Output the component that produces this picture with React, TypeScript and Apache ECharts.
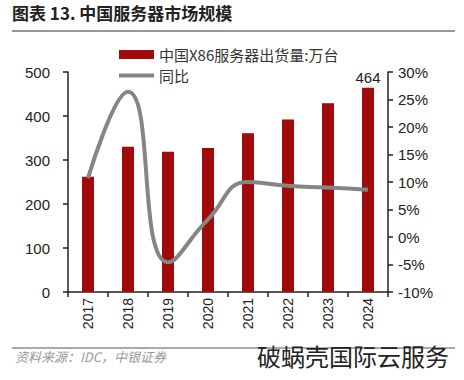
import React, { useEffect, useRef } from "react";
import * as echarts from "echarts";

const years = ["2017", "2018", "2019", "2020", "2021", "2022", "2023", "2024"];
const shipments = [262, 330, 319, 327, 361, 392, 429, 464];
const yoy = [10.7, 26.4, -4.6, 3.2, 10.0, 9.3, 9.0, 8.6];
const leftTicks = { min: 0, max: 500, interval: 100 };
const rightTicks = { min: -10, max: 30, interval: 5 };

const LATIN = "'Liberation Sans', Arial, 'Noto Sans CJK SC', sans-serif";
const CJK = "'Noto Sans CJK SC', 'Liberation Sans', sans-serif";

export default function App() {
  const ref = useRef<HTMLDivElement>(null);
  useEffect(() => {
    if (!ref.current) return;
    const chart = echarts.init(ref.current, null, { renderer: "svg" });
    const axisLine = { show: true, lineStyle: { color: "#222", width: 1.5 } };
    const axisTick = { show: true, length: 5, lineStyle: { color: "#222", width: 1.5 } };
    chart.setOption({
      animation: false,
      backgroundColor: "#fff",
      graphic: [
        {
          type: "text",
          left: 12,
          top: 4,
          style: { text: "图表 13. 中国服务器市场规模", font: `bold 17px ${CJK}`, fill: "#222" },
        },
        {
          type: "line",
          shape: { x1: 12, y1: 31, x2: 455, y2: 31 },
          style: { stroke: "#333", lineWidth: 1 },
        },
        {
          type: "line",
          shape: { x1: 12, y1: 348, x2: 455, y2: 348 },
          style: { stroke: "#555", lineWidth: 1 },
        },
        {
          type: "text",
          left: 15,
          top: 350,
          style: { text: "资料来源：IDC，中银证券", font: `italic 13px ${CJK}`, fill: "#999" },
        },
        {
          type: "text",
          left: 257,
          top: 343,
          style: { text: "破蜗壳国际云服务", font: `24px ${CJK}`, fill: "#222" },
        },
      ],
      legend: {
        orient: "vertical",
        left: 112,
        top: 42,
        itemWidth: 35,
        itemHeight: 9,
        itemGap: 6,
        textStyle: { fontFamily: CJK, fontSize: 15, color: "#333", lineHeight: 15 },
        data: [
          { name: "中国X86服务器出货量:万台", icon: "rect" },
          { name: "同比", itemStyle: { opacity: 0 }, lineStyle: { width: 4, color: "#858585" } },
        ],
      },
      grid: { left: 68, right: 76, top: 72, bottom: 88 },
      xAxis: {
        type: "category",
        data: years,
        boundaryGap: true,
        axisLine,
        axisTick: { ...axisTick, alignWithLabel: false },
        axisLabel: { rotate: 90, fontFamily: LATIN, fontSize: 14, color: "#222", margin: 6 },
      },
      yAxis: [
        {
          type: "value",
          ...leftTicks,
          position: "left",
          axisLine,
          axisTick,
          splitLine: { show: false },
          axisLabel: { fontFamily: LATIN, fontSize: 15, color: "#222", margin: 18 },
        },
        {
          type: "value",
          ...rightTicks,
          position: "right",
          axisLine,
          axisTick,
          splitLine: { show: false },
          axisLabel: {
            fontFamily: LATIN,
            fontSize: 15,
            color: "#222",
            margin: 10,
            formatter: (v: number) => `${v}%`,
          },
        },
      ],
      series: [
        {
          name: "中国X86服务器出货量:万台",
          type: "bar",
          data: shipments.map((v, i) =>
            i === shipments.length - 1
              ? {
                  value: v,
                  label: {
                    show: true,
                    position: "top",
                    fontFamily: LATIN,
                    fontSize: 15,
                    color: "#222",
                    distance: 3,
                  },
                }
              : v
          ),
          barWidth: 12,
          itemStyle: { color: "#A00A0A" },
        },
        {
          name: "同比",
          type: "line",
          yAxisIndex: 1,
          data: yoy,
          smooth: 0.5,
          symbol: "none",
          lineStyle: { color: "#858585", width: 4 },
          itemStyle: { color: "#858585" },
        },
      ],
    });
    return () => chart.dispose();
  }, []);
  return (
    <div
      ref={ref}
      style={{ position: "fixed", left: 0, top: 0, width: 464, height: 380 }}
    />
  );
}
